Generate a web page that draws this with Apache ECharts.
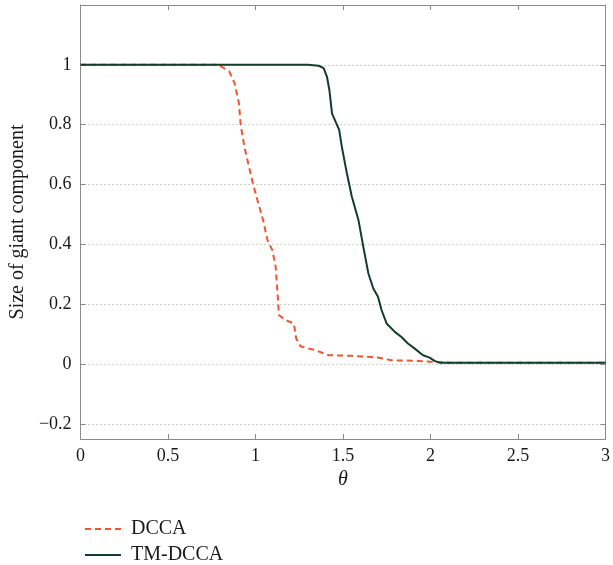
<!DOCTYPE html>
<html>
<head>
<meta charset="utf-8">
<script src="https://cdn.jsdelivr.net/npm/echarts@6/dist/echarts.min.js"></script>
<style>
  html, body { margin: 0; padding: 0; background: #fff; }
  #main { width: 613px; height: 565px; }
</style>
</head>
<body>
<div id="main"></div>
<script>
// values
const dccaTheta = [0, 0.79, 0.85, 0.88, 0.905, 0.915, 0.936, 0.958, 0.987, 1.011, 1.043, 1.068, 1.096, 1.115, 1.126, 1.134, 1.172, 1.219, 1.232, 1.257, 1.304, 1.342, 1.418, 1.55, 1.70, 1.777, 1.93, 2.0, 2.117, 3]
const dccaSize = [1, 1, 0.978, 0.939, 0.872, 0.80, 0.727, 0.671, 0.599, 0.548, 0.482, 0.415, 0.381, 0.325, 0.236, 0.164, 0.147, 0.136, 0.086, 0.06, 0.052, 0.047, 0.030, 0.028, 0.022, 0.013, 0.011, 0.008, 0.005, 0.005]

const tmTheta = [0, 1.30, 1.361, 1.389, 1.408, 1.422, 1.437, 1.456, 1.478, 1.493, 1.522, 1.55, 1.588, 1.616, 1.645, 1.673, 1.70, 1.72, 1.749, 1.796, 1.834, 1.871, 1.91, 1.957, 1.995, 2.023, 2.051, 3]
const tmSize = [1, 1, 0.997, 0.989, 0.961, 0.916, 0.838, 0.812, 0.783, 0.727, 0.638, 0.56, 0.482, 0.392, 0.303, 0.253, 0.225, 0.181, 0.136, 0.108, 0.091, 0.069, 0.052, 0.030, 0.022, 0.011, 0.005, 0.005]

const yTicks = [-0.2, 0, 0.2, 0.4, 0.6, 0.8, 1]
const seriesNames = ['DCCA', 'TM-DCCA']

const fontFam = '"Liberation Serif", "DejaVu Serif", serif'
const axisGray = '#8a8a8a'
const red = '#f4532d'
const green = '#123d29'

function pairs(xs, ys) {
  return xs.map((x, i) => [x, ys[i]])
}

var myChart = echarts.init(document.getElementById('main'))

const baseX = {
  type: 'value',
  min: 0,
  max: 3,
  interval: 0.5,
  axisLine: { show: true, onZero: false, lineStyle: { color: axisGray, width: 1 } },
  axisTick: { show: true, inside: true, length: 5, lineStyle: { color: axisGray } },
  splitLine: { show: false }
}

const baseY = {
  type: 'value',
  min: -0.25,
  max: 1.2,
  axisLine: { show: true, onZero: false, lineStyle: { color: axisGray, width: 1 } },
  axisTick: { show: true, inside: true, length: 5, customValues: yTicks, lineStyle: { color: axisGray } }
}

// one legend per row so they stack like the original
function legendRow(name, top) {
  return {
    orient: 'vertical',
    left: 79,
    top: top,
    itemWidth: 36,
    itemHeight: 14,
    itemGap: 0,
    itemStyle: { opacity: 0 },
    textStyle: { fontFamily: fontFam, fontSize: 20, color: '#1a1a1a', padding: [0, 0, 0, 5] },
    data: [name]
  }
}

const option = {
  animation: false,
  backgroundColor: '#fff',
  grid: { left: 80, right: 4, top: 5, bottom: 126, containLabel: false },
  legend: [
    legendRow(seriesNames[0], 514),
    legendRow(seriesNames[1], 540)
  ],
  xAxis: [
    Object.assign({}, baseX, {
      position: 'bottom',
      name: 'θ',
      nameLocation: 'middle',
      nameGap: 29,
      nameTextStyle: { fontFamily: fontFam, fontSize: 20, fontStyle: 'italic', color: '#1a1a1a' },
      axisLabel: { fontFamily: fontFam, fontSize: 18, color: '#1a1a1a', margin: 8 }
    }),
    Object.assign({}, baseX, {
      position: 'top',
      axisLabel: { show: false }
    })
  ],
  yAxis: [
    Object.assign({}, baseY, {
      position: 'left',
      name: 'Size of giant component',
      nameLocation: 'middle',
      nameGap: 52,
      nameTextStyle: { fontFamily: fontFam, fontSize: 20, color: '#1a1a1a' },
      axisLabel: {
        customValues: yTicks,
        fontFamily: fontFam, fontSize: 18, color: '#1a1a1a', margin: 9,
        formatter: (v) => String(v).replace('-', '\u2212')
      },
      splitLine: { show: true, lineStyle: { type: [1, 3], color: '#a0a0a0', width: 1 } }
    }),
    Object.assign({}, baseY, {
      position: 'right',
      axisLabel: { show: false },
      splitLine: { show: false }
    })
  ],
  series: [
    {
      name: seriesNames[0],
      type: 'line',
      data: pairs(dccaTheta, dccaSize),
      symbol: 'none',
      smooth: false,
      z: 2,
      itemStyle: { color: red },
      lineStyle: { color: red, width: 2, type: [6, 4] }
    },
    {
      name: seriesNames[1],
      type: 'line',
      data: pairs(tmTheta, tmSize),
      symbol: 'none',
      smooth: false,
      z: 3,
      itemStyle: { color: green },
      lineStyle: { color: green, width: 2 }
    }
  ]
}

myChart.setOption(option)
</script>
</body>
</html>
